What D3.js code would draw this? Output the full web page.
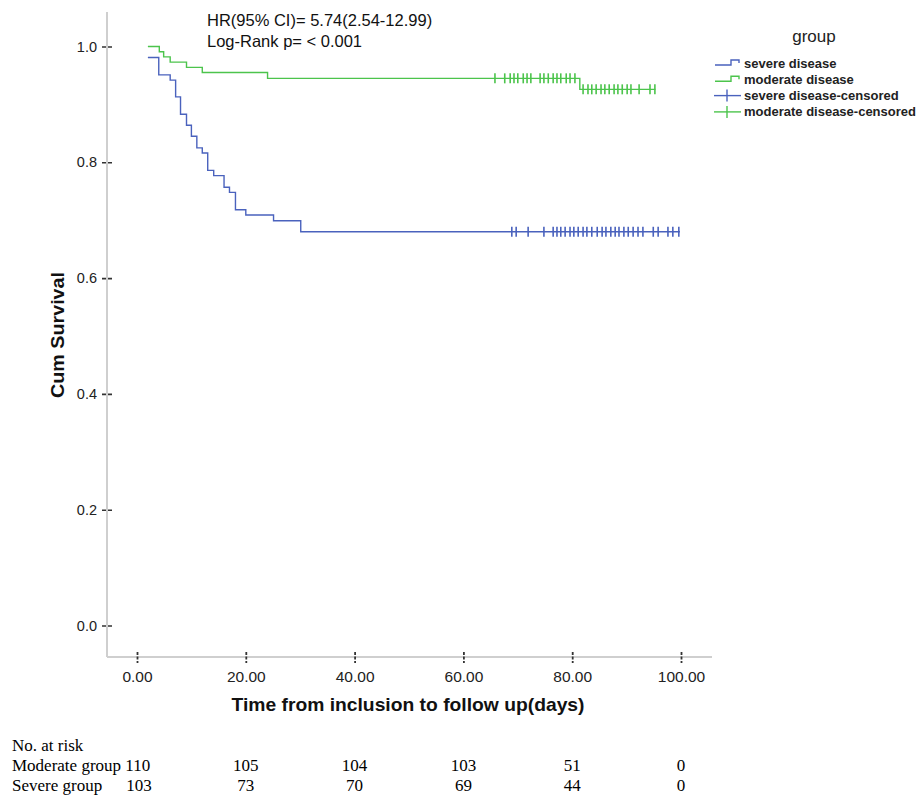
<!DOCTYPE html>
<html>
<head>
<meta charset="utf-8">
<script src="https://cdn.jsdelivr.net/npm/d3@7/dist/d3.min.js"></script>
<style>
  html, body { margin: 0; padding: 0; background: #ffffff; }
  svg { display: block; }
</style>
</head>
<body>
<div id="chart"></div>
<script>
// ---------------- DATA ----------------
const groups = ["severe disease", "moderate disease"];

// Kaplan-Meier step points (time in days, cumulative survival)
const severeTimes = [2.0, 4.0, 6.1, 7.1, 8.0, 9.1, 10.0, 11.0, 12.0, 13.0, 14.1, 16.0, 17.0, 18.1, 20.0, 25.1, 30.1];
const severeSurv  = [0.981, 0.951, 0.942, 0.913, 0.883, 0.864, 0.845, 0.825, 0.816, 0.786, 0.777, 0.757, 0.748, 0.718, 0.709, 0.699, 0.680];
const severeEnd = 99.8;

const moderateTimes = [2.0, 4.1, 4.9, 6.1, 9.1, 12.0, 24.0, 81.4];
const moderateSurv  = [1.000, 0.991, 0.982, 0.973, 0.964, 0.955, 0.945, 0.926];
const moderateEnd = 95.3;

// censored observation times (days)
const severeCensored = [68.9, 69.7, 71.9, 74.8, 76.5, 77.2, 77.9, 78.7, 79.6, 80.3, 81.1, 82.0, 82.7, 83.6, 84.6,
  85.5, 86.2, 87.1, 87.9, 88.6, 89.5, 90.3, 91.2, 92.1, 93.0, 94.9, 95.8, 97.6, 98.5, 99.6];
const moderateCensored = [65.8, 67.6, 68.6, 69.3, 70.0, 71.0, 71.7, 72.4, 74.1, 74.8, 75.6, 76.5, 77.2, 77.9, 78.9,
  79.6, 80.5, 82.0, 82.9, 83.6, 84.4, 85.3, 86.0, 86.8, 87.7, 88.4, 89.2, 90.1, 90.8, 92.3, 94.3, 95.2];

const xTicks = [0, 20, 40, 60, 80, 100];
const yTicks = [0, 0.2, 0.4, 0.6, 0.8, 1.0];

const legendLabels = ["severe disease", "moderate disease", "severe disease-censored", "moderate disease-censored"];

const riskRows = ["Moderate group", "Severe group"];
const riskModerate = [110, 105, 104, 103, 51, 0];
const riskSevere   = [103, 73, 70, 69, 44, 0];

const annotation = ["HR(95% CI)= 5.74(2.54-12.99)", "Log-Rank p= < 0.001"];

// ---------------- STYLE / LAYOUT ----------------
const W = 923, H = 796;
const colors = { severe: "#4a62bd", moderate: "#4cc44c" };
const axisColor = "#cfcfcf";

const svg = d3.select("#chart").append("svg")
  .attr("width", W).attr("height", H)
  .style("font-family", "'Liberation Sans', Arial, sans-serif");

svg.append("rect").attr("width", W).attr("height", H).attr("fill", "#fff");

const x = d3.scaleLinear().domain([0, 100]).range([137, 681]);
const y = d3.scaleLinear().domain([0, 1]).range([625.5, 46.5]);

const axisX0 = 107, axisY0 = 657;

// axis lines
svg.append("line").attr("x1", axisX0).attr("x2", axisX0).attr("y1", 12).attr("y2", axisY0)
  .attr("stroke", axisColor).attr("stroke-width", 2);
svg.append("line").attr("x1", axisX0).attr("x2", 712).attr("y1", axisY0).attr("y2", axisY0)
  .attr("stroke", axisColor).attr("stroke-width", 2);

// Y axis
const yAxis = svg.append("g").attr("transform", `translate(${axisX0},0)`)
  .call(d3.axisLeft(y).tickValues(yTicks).tickFormat(d3.format(".1f")).tickSize(0).tickPadding(10));
yAxis.select(".domain").remove();
yAxis.selectAll(".tick line").attr("x1", -5).attr("x2", 5)
  .attr("stroke", "#333").attr("stroke-width", 1.6).attr("stroke-dasharray", "4,2");
yAxis.selectAll(".tick text").attr("font-size", 14.5).attr("fill", "#222")
  .attr("font-family", "'Liberation Sans', Arial, sans-serif");

// X axis
const xAxis = svg.append("g").attr("transform", `translate(0,${axisY0})`)
  .call(d3.axisBottom(x).tickValues(xTicks).tickFormat(d3.format(".2f")).tickSize(0).tickPadding(14));
xAxis.select(".domain").remove();
xAxis.selectAll(".tick line").attr("y1", -5).attr("y2", 6)
  .attr("stroke", "#333").attr("stroke-width", 1.8).attr("stroke-dasharray", "3,1.5");
xAxis.selectAll(".tick text").attr("font-size", 15.5).attr("fill", "#222")
  .attr("font-family", "'Liberation Sans', Arial, sans-serif");

// axis titles
svg.append("text").attr("transform", "translate(64,335) rotate(-90)")
  .attr("text-anchor", "middle").attr("font-size", 19).attr("font-weight", "bold")
  .attr("fill", "#111").attr("textLength", 126).attr("lengthAdjust", "spacingAndGlyphs")
  .text("Cum Survival");
svg.append("text").attr("x", 408).attr("y", 711)
  .attr("text-anchor", "middle").attr("font-size", 19).attr("font-weight", "bold")
  .attr("fill", "#111").attr("textLength", 353).attr("lengthAdjust", "spacingAndGlyphs")
  .text("Time from inclusion to follow up(days)");

// KM step paths
function stepPoints(times, surv, end) {
  const pts = times.map((t, i) => [t, surv[i]]);
  pts.push([end, surv[surv.length - 1]]);
  return pts;
}
const line = d3.line().x(d => x(d[0])).y(d => y(d[1])).curve(d3.curveStepAfter);

svg.append("path").datum(stepPoints(moderateTimes, moderateSurv, moderateEnd))
  .attr("d", line).attr("fill", "none").attr("stroke", colors.moderate).attr("stroke-width", 1.4);
svg.append("path").datum(stepPoints(severeTimes, severeSurv, severeEnd))
  .attr("d", line).attr("fill", "none").attr("stroke", colors.severe).attr("stroke-width", 1.4);

function survAt(times, surv, t) {
  let s = surv[0];
  for (let i = 0; i < times.length; i++) if (times[i] <= t) s = surv[i];
  return s;
}
function censorMarks(data, times, surv, color) {
  svg.append("g").selectAll("line").data(data).join("line")
    .attr("x1", d => x(d)).attr("x2", d => x(d))
    .attr("y1", d => y(survAt(times, surv, d)) - 5)
    .attr("y2", d => y(survAt(times, surv, d)) + 5)
    .attr("stroke", color).attr("stroke-width", 1.6);
}
censorMarks(moderateCensored, moderateTimes, moderateSurv, colors.moderate);
censorMarks(severeCensored, severeTimes, severeSurv, colors.severe);

// annotation
svg.append("g").selectAll("text").data(annotation).join("text")
  .attr("x", 207).attr("y", (d, i) => 25.5 + i * 21.5)
  .attr("font-size", 16.5).attr("fill", "#111").text(d => d);

// legend
const lg = svg.append("g");
lg.append("text").attr("x", 814).attr("y", 42).attr("text-anchor", "middle")
  .attr("font-size", 17).attr("fill", "#222").text("group");
const legendColors = [colors.severe, colors.moderate, colors.severe, colors.moderate];
legendLabels.forEach((lab, i) => {
  const cy = 63 + i * 16.3;
  if (i < 2) {
    lg.append("path").attr("d", `M715,${cy + 2} H731 V${cy - 3} H739 V${cy}`)
      .attr("fill", "none").attr("stroke", legendColors[i]).attr("stroke-width", 1.4);
  } else {
    lg.append("line").attr("x1", 714).attr("x2", 741).attr("y1", cy).attr("y2", cy)
      .attr("stroke", legendColors[i]).attr("stroke-width", 1.4);
    lg.append("line").attr("x1", 727).attr("x2", 727).attr("y1", cy - 6).attr("y2", cy + 6)
      .attr("stroke", legendColors[i]).attr("stroke-width", 1.4);
  }
  lg.append("text").attr("x", 744).attr("y", cy + 4.5).attr("font-size", 13)
    .attr("font-weight", "bold").attr("fill", "#222").text(lab);
});

// number at risk table
const tbl = svg.append("g").style("font-family", "'Liberation Serif', 'Times New Roman', serif")
  .attr("font-size", 17).attr("fill", "#000");
tbl.append("text").attr("x", 12).attr("y", 751).text("No. at risk");
tbl.append("text").attr("x", 12).attr("y", 771).text(riskRows[0] + " " + riskModerate[0]);
tbl.append("text").attr("x", 12).attr("y", 791).text(riskRows[1]);
tbl.append("text").attr("x", 139).attr("y", 791).attr("text-anchor", "middle").text(riskSevere[0]);
xTicks.slice(1).forEach((t, j) => {
  tbl.append("text").attr("x", x(t)).attr("y", 771).attr("text-anchor", "middle").text(riskModerate[j + 1]);
  tbl.append("text").attr("x", x(t)).attr("y", 791).attr("text-anchor", "middle").text(riskSevere[j + 1]);
});
</script>
</body>
</html>
